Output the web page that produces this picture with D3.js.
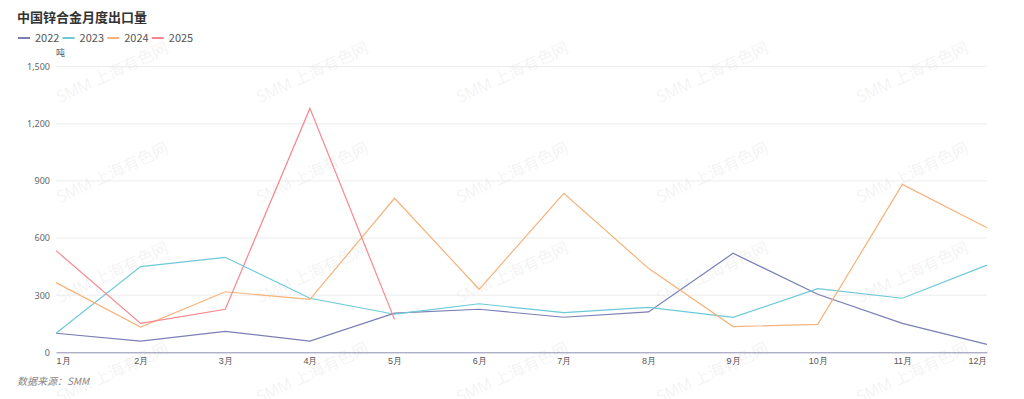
<!DOCTYPE html>
<html><head><meta charset="utf-8">
<script src="https://cdn.jsdelivr.net/npm/d3@7/dist/d3.min.js"></script>
<style>
html,body{margin:0;padding:0;background:#fff;}
svg{display:block;font-family:"Noto Sans CJK SC","Noto Sans",sans-serif;}
</style></head>
<body><svg id="c" width="1024" height="399"></svg>
<script>
const months = ["1月","2月","3月","4月","5月","6月","7月","8月","9月","10月","11月","12月"];
const seriesNames = ["2022","2023","2024","2025"];
const v2022 = [100, 59, 110, 59, 206, 226, 184, 212, 520, 305, 152, 42];
const v2023 = [100, 450, 499, 284, 200, 255, 208, 236, 184, 334, 284, 458];
const v2024 = [366, 133, 318, 278, 809, 331, 835, 441, 135, 147, 882, 654];
const v2025 = [534, 152, 226, 1281, 173];
const yTicks = [0, 300, 600, 900, 1200, 1500];
const colors = ["#7b7fb5", "#6ccad8", "#f6b37b", "#f7878d"];
const seriesValues = [v2022, v2023, v2024, v2025];

const svg = d3.select("#c");
const x = d3.scalePoint().domain(months).range([56, 987]);
const y = d3.scaleLinear().domain([0, 1500]).range([352.3, 66.7]);

// watermarks
const wm = svg.append("g");
for (let i = 0; i < 5; i++) for (let j = 0; j < 4; j++) {
  const px = 60 + 200 * i, py = 103 + 100 * j;
  wm.append("text").attr("transform", `translate(${px},${py}) rotate(-25)`)
    .attr("font-size", 16).attr("font-family", "Noto Sans, Noto Sans CJK SC, sans-serif")
    .attr("font-weight", 300).attr("fill", "#f1f1f1").text("SMM 上海有色网");
}

// title
svg.append("text").attr("x", 17).attr("y", 22).attr("font-size", 13).attr("font-weight", "bold")
  .attr("fill", "#333").text("中国锌合金月度出口量");

// legend
const lg = svg.append("g");
seriesNames.forEach((n, i) => {
  const lx = 18 + i * 44.6;
  lg.append("line").attr("x1", lx).attr("x2", lx + 12).attr("y1", 38).attr("y2", 38)
    .attr("stroke", colors[i]).attr("stroke-width", 2);
  lg.append("text").attr("x", lx + 17).attr("y", 42).attr("font-size", 11).attr("fill", "#555").text(n);
});

// unit
svg.append("text").attr("x", 56).attr("y", 56).attr("font-size", 9).attr("fill", "#555").text("吨");

// grid + y axis
const yAxis = d3.axisLeft(y).tickValues(yTicks).tickSize(0).tickPadding(6).tickFormat(d3.format(","));
const ya = svg.append("g").attr("transform", "translate(56,0)").call(yAxis);
ya.select(".domain").remove();
ya.selectAll("text").attr("font-size", 9).attr("fill", "#666").attr("font-family", "Noto Sans, sans-serif");
svg.append("g").selectAll("line").data(yTicks.filter(d => d > 0)).join("line")
  .attr("x1", 56).attr("x2", 987).attr("y1", d => y(d)).attr("y2", d => y(d))
  .attr("stroke", "#ececec").attr("stroke-width", 1);

// x axis
const xa = svg.append("g").attr("transform", `translate(0,${y(0)})`)
  .call(d3.axisBottom(x).tickSize(0).tickPadding(5));
xa.select(".domain").attr("stroke", "#8c8fb0").attr("stroke-width", 1);
xa.selectAll("text").attr("font-size", 9).attr("fill", "#555")
  .attr("text-anchor", (d, i) => i === 0 ? "start" : (i === months.length - 1 ? "end" : "middle"));

// lines
const line = d3.line().x((d, i) => x(months[i])).y(d => y(d));
seriesValues.forEach((vals, i) => {
  svg.append("path").datum(vals).attr("d", line).attr("fill", "none")
    .attr("stroke", colors[i]).attr("stroke-width", 1.2);
});

// source
svg.append("text").attr("x", 17).attr("y", 385).attr("font-size", 10).attr("font-style", "italic")
  .attr("fill", "#888").text("数据来源：SMM");
</script></body></html>
